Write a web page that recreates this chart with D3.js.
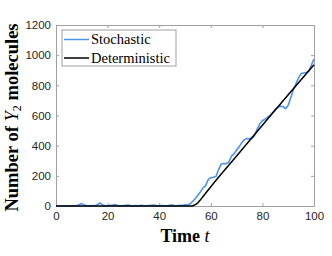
<!DOCTYPE html>
<meta charset="utf-8">
<html>
<script src="https://d3js.org/d3.v7.min.js"></script>
<style>
    body { margin: 0; background: #fff; }
    .tick text { font-family: "Liberation Sans", Arial, sans-serif; font-size: 11.5px; fill: #262626; }
    .serif { font-family: "Liberation Serif", "Times New Roman", serif; }
</style>
<body>
<div id="my_dataviz"></div>
<script>
    // tick labels
    var xTicks = [0, 20, 40, 60, 80, 100];
    var yTicks = [0, 200, 400, 600, 800, 1000, 1200];

    // stochastic run, one sample per time unit
    var stochTime = d3.range(0, 101);
    var stochValue = [0, 1, 0, 2, 1, 0, 2, 1, 3, 8, 16, 6, 2, 1, 3, 2, 8, 20, 7, 3,
        2, 4, 6, 9, 3, 2, 1, 4, 6, 2, 1, 3, 2, 4, 2, 1, 3, 5, 7, 2,
        1, 3, 2, 1, 4, 6, 3, 2, 5, 3, 8, 6, 15, 30, 50, 72, 95, 120, 135, 175,
        188, 190, 195, 240, 278, 282, 280, 292, 330, 345, 372, 392, 420, 440, 447, 445, 450, 470, 510, 545,
        565, 575, 590, 600, 620, 640, 652, 662, 658, 645, 668, 720, 770, 810, 850, 878, 882, 885, 895, 935,
        975];

    // deterministic solution
    var detTime = [0, 50, 52, 53, 54, 55, 56, 57, 58, 60, 70, 80, 90, 100];
    var detValue = [0, 0, 0, 2, 9, 22, 41, 63, 85, 128, 332, 535, 738, 937];

    var legendNames = ["Stochastic", "Deterministic"];
    var colors = ["#4d92f2", "#000000"];

    var margin = { top: 25, right: 18, bottom: 50, left: 56 },
        width = 332 - margin.left - margin.right,
        height = 256 - margin.top - margin.bottom;

    var svg = d3.select("#my_dataviz")
        .append("svg")
        .attr("width", 332)
        .attr("height", 256)
        .append("g")
        .attr("transform", "translate(" + margin.left + "," + margin.top + ")");

    var x = d3.scaleLinear().domain([0, 100]).range([0, width]);
    var y = d3.scaleLinear().domain([0, 1200]).range([height, 0]);

    // axes with inward ticks, MATLAB style box
    var frame = "#a0a0a0";
    var gx = svg.append("g")
        .attr("transform", "translate(0," + height + ")")
        .call(d3.axisBottom(x).tickValues(xTicks).tickFormat(d3.format("d"))
            .tickSizeInner(-3).tickSizeOuter(0).tickPadding(6));
    var gy = svg.append("g")
        .call(d3.axisLeft(y).tickValues(yTicks).tickFormat(d3.format("d"))
            .tickSizeInner(-3).tickSizeOuter(0).tickPadding(5));
    var gt = svg.append("g")
        .call(d3.axisTop(x).tickValues(xTicks).tickSizeInner(-3).tickSizeOuter(0).tickFormat(""));
    var gr = svg.append("g")
        .attr("transform", "translate(" + width + ",0)")
        .call(d3.axisRight(y).tickValues(yTicks).tickSizeInner(-3).tickSizeOuter(0).tickFormat(""));
    [gx, gy, gt, gr].forEach(function (g) {
        g.select(".domain").attr("stroke", frame);
        g.selectAll(".tick line").attr("stroke", frame);
    });

    var stochData = stochTime.map(function (t, i) { return { t: t, v: stochValue[i] }; });
    var detData = detTime.map(function (t, i) { return { t: t, v: detValue[i] }; });

    var line = d3.line()
        .x(function (d) { return x(d.t); })
        .y(function (d) { return y(d.v); });

    // stochastic line
    svg.append("path")
        .datum(stochData)
        .attr("fill", "none")
        .attr("stroke", colors[0])
        .attr("stroke-width", 1.6)
        .attr("stroke-linejoin", "round")
        .attr("d", line);

    // deterministic line
    svg.append("path")
        .datum(detData)
        .attr("fill", "none")
        .attr("stroke", colors[1])
        .attr("stroke-width", 1.5)
        .attr("d", line.curve(d3.curveMonotoneX));

    // legend
    var legend = svg.append("g").attr("transform", "translate(6,5)");
    legend.append("rect")
        .attr("width", 114).attr("height", 36)
        .attr("fill", "#fff").attr("stroke", frame).attr("stroke-width", 1);
    legendNames.forEach(function (name, i) {
        var ly = 9.5 + i * 18.5;
        legend.append("line")
            .attr("x1", 2).attr("x2", 27).attr("y1", ly).attr("y2", ly)
            .attr("stroke", colors[i]).attr("stroke-width", 1.5);
        legend.append("text")
            .attr("class", "serif")
            .attr("x", 29).attr("y", ly + 4.5)
            .attr("font-size", 14.5)
            .attr("fill", "#000")
            .text(name);
    });

    // axis labels
    var xl = svg.append("text")
        .attr("class", "serif")
        .attr("x", width / 2).attr("y", height + 36)
        .attr("text-anchor", "middle")
        .style("font-size", "18px").style("font-weight", "bold");
    xl.append("tspan").text("Time ");
    xl.append("tspan").style("font-style", "italic").style("font-weight", "normal").text("t");

    var yl = svg.append("text")
        .attr("class", "serif")
        .attr("transform", "translate(" + (-38) + "," + (height / 2 + 2) + ") rotate(-90)")
        .attr("text-anchor", "middle")
        .style("font-size", "18.5px").style("font-weight", "bold");
    yl.append("tspan").text("Number of ");
    yl.append("tspan").style("font-style", "italic").style("font-weight", "normal").text("Y");
    yl.append("tspan").attr("dy", 3).style("font-size", "12px").style("font-weight", "normal").text("2");
    yl.append("tspan").attr("dy", -3).text(" molecules");
</script>
</body>
</html>
